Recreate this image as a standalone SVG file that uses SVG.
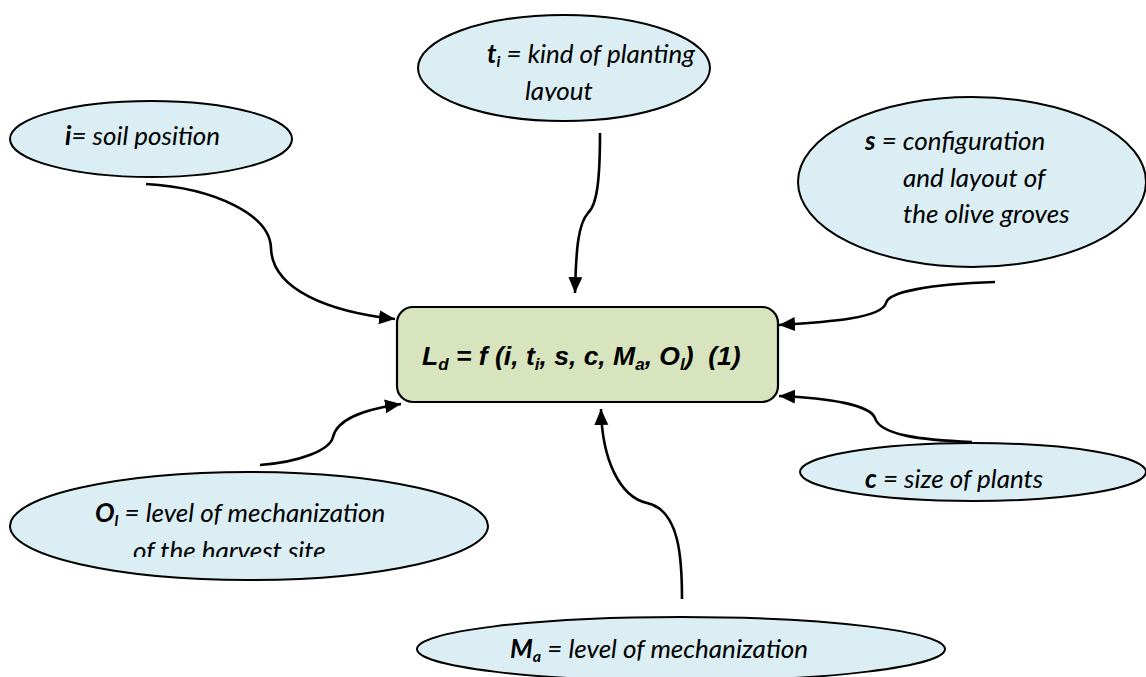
<svg xmlns="http://www.w3.org/2000/svg" width="1146" height="677" viewBox="0 0 1146 677">
<style>
.oval{fill:#daeef3;stroke:#000;stroke-width:2}
.box{fill:#d7e4bd;stroke:#000;stroke-width:2.2}
.t{font-family:Lato,"Open Sans",sans-serif;font-style:italic;font-size:26px;fill:#000}
.b{font-weight:bold}
.f{font-family:"Liberation Sans",Arial,sans-serif;font-style:italic;font-weight:bold;font-size:26.5px;fill:#000}
.con{fill:none;stroke:#000;stroke-width:2.6}
</style>
<defs>
<marker id="ah" markerUnits="userSpaceOnUse" markerWidth="18" markerHeight="16" refX="16" refY="7" orient="auto">
<path d="M0,0 L16,7 L0,14 Z" fill="#000"/>
</marker>
<clipPath id="clipTi"><rect x="400" y="0" width="320" height="101"/></clipPath>
<clipPath id="clipOl"><rect x="0" y="460" width="500" height="97"/></clipPath>
</defs>
<g id="connectors">
<path class="con" marker-end="url(#ah)" d="M146,184 C215,188 270,215 271,248 C272,290 330,312 395,319"/>
<path class="con" marker-end="url(#ah)" d="M600,133 C600,180 597,205 588,213 C578,224 576,250 575,293"/>
<path class="con" marker-end="url(#ah)" d="M995,282 C930,284 888,292 886,303 C882,318 830,322 779,325"/>
<path class="con" marker-end="url(#ah)" d="M972,442 C920,440 880,435 875,418 C870,405 830,398 779,396"/>
<path class="con" marker-end="url(#ah)" d="M682,599 C682,560 680,510 647,503 C620,497 602,460 601,409"/>
<path class="con" marker-end="url(#ah)" d="M260,465 C300,462 330,450 333,437 C337,420 360,410 401,404"/>
</g>
<g id="node-ld">
<rect class="box" x="397" y="307" width="381" height="95" rx="16" ry="16"/>
<text class="f" x="422" y="365">L<tspan font-size="17" dy="5">d</tspan><tspan dy="-5"> = f (i, t</tspan><tspan font-size="17" dy="5">i</tspan><tspan dy="-5">, s, c, M</tspan><tspan font-size="17" dy="5">a</tspan><tspan dy="-5">, O</tspan><tspan font-size="17" dy="5">l</tspan><tspan dy="-5">)&#160; (1)</tspan></text>
</g>
<g id="node-i">
<ellipse class="oval" cx="151" cy="139" rx="141" ry="38"/>
<text class="t" x="65" y="145"><tspan class="b">i</tspan>= soil position</text>
</g>
<g id="node-ti">
<ellipse class="oval" cx="564" cy="68" rx="146" ry="53"/>
<text class="t" x="487" y="63"><tspan class="b">t</tspan><tspan class="b" font-size="16" dy="4">i</tspan><tspan dy="-4"> = kind of planting</tspan></text>
<text class="t" x="525" y="100" clip-path="url(#clipTi)">layout</text>
</g>
<g id="node-s">
<ellipse class="oval" cx="972" cy="182" rx="174" ry="85"/>
<text class="t" x="865" y="150"><tspan class="b">s</tspan> = configuration</text>
<text class="t" x="903" y="187">and layout of</text>
<text class="t" x="903" y="223">the olive groves</text>
</g>
<g id="node-c">
<ellipse class="oval" cx="973" cy="472" rx="173" ry="29"/>
<text class="t" x="865" y="488"><tspan class="b">c</tspan> = size of plants</text>
</g>
<g id="node-ol">
<ellipse class="oval" cx="249" cy="526" rx="239" ry="54"/>
<text class="t" x="95" y="522"><tspan class="b">O</tspan><tspan class="b" font-size="16" dy="4">l</tspan><tspan dy="-4"> = level of mechanization</tspan></text>
<text class="t" x="133" y="560" clip-path="url(#clipOl)">of the harvest site</text>
</g>
<g id="node-ma">
<ellipse class="oval" cx="681" cy="649" rx="264" ry="32"/>
<text class="t" x="510" y="658"><tspan class="b">M</tspan><tspan class="b" font-size="16" dy="4">a</tspan><tspan dy="-4"> = level of mechanization</tspan></text>
</g>
</svg>
